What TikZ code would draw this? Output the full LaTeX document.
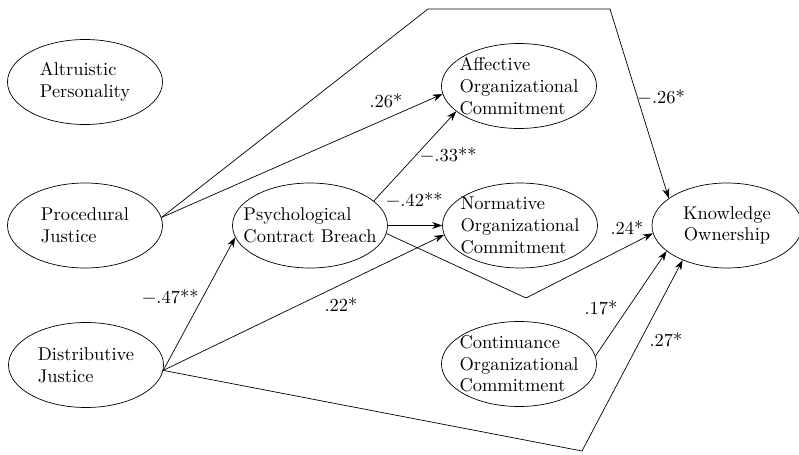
\documentclass[tikz,border=0pt]{standalone}
\usepackage{amsmath}
\usetikzlibrary{shapes.geometric,arrows.meta}

\begin{document}
\begin{tikzpicture}[
    every node/.style={font=\fontsize{10.5}{12.3}\selectfont},
    var/.style={draw, ellipse, minimum width=3.1cm, minimum height=1.7cm, inner xsep=-7pt, inner ysep=-2pt, align=left},
    coef/.style={inner sep=1pt},
    path/.style={-{Stealth[length=2mm,width=1.4mm]}}]
      \useasboundingbox (0,0) rectangle (15.98,9.08);
      \clip (0,0) rectangle (15.98,9.08);
      \node[var] (alt) at (1.70,7.44) {Altruistic\\Personality};
      \node[var] (proc) at (1.70,4.57) {Procedural\\Justice};
      \node[var] (dist) at (1.72,1.78) {Distributive\\Justice};
      \node[var] (pcb) at (6.20,4.57) {Psychological\\Contract Breach};
      \node[var] (aff) at (10.38,7.36) {Affective\\Organizational\\Commitment};
      \node[var] (norm) at (10.40,4.57) {Normative\\Organizational\\Commitment};
      \node[var] (cont) at (10.38,1.80) {Continuance\\Organizational\\Commitment};
      \node[var, minimum width=3.0cm, align=center] (know) at (14.54,4.57) {Knowledge\\Ownership};
      \coordinate (procout) at (proc.6);
      \coordinate (distout) at (dist.-4);
      \draw[path] (procout) -- (8.56,8.90) -- (12.20,8.90) -- (know.155);
      \draw[path] (procout) -- (aff.186);
      \draw[path] (pcb.21) -- (aff.202);
      \draw[path] (pcb.east) -- (norm.west);
      \draw[path] (pcb.-6) -- (10.52,3.12) -- (know.186);
      \draw[path] (distout) -- (pcb.189);
      \draw[path] (distout) -- (norm.187);
      \draw[path] (distout) -- (11.64,0.06) -- (know.218);
      \draw[path] (cont.6) -- (know.203);
      \node[coef] (c1) at (13.22,7.14) {$-$.26*};
      \node[coef] (c2) at (7.72,7.06) {.26*};
      \node[coef] (c3) at (8.96,5.98) {$-$.33**};
      \node[coef] (c4) at (8.28,5.08) {$-$.42**};
      \node[coef] (c5) at (12.54,4.52) {.24*};
      \node[coef] (c6) at (3.40,3.14) {$-$.47**};
      \node[coef] (c7) at (6.82,2.98) {.22*};
      \node[coef] (c8) at (12.02,2.92) {.17*};
      \node[coef] (c9) at (13.32,2.28) {.27*};
    \end{tikzpicture}
\end{document}
